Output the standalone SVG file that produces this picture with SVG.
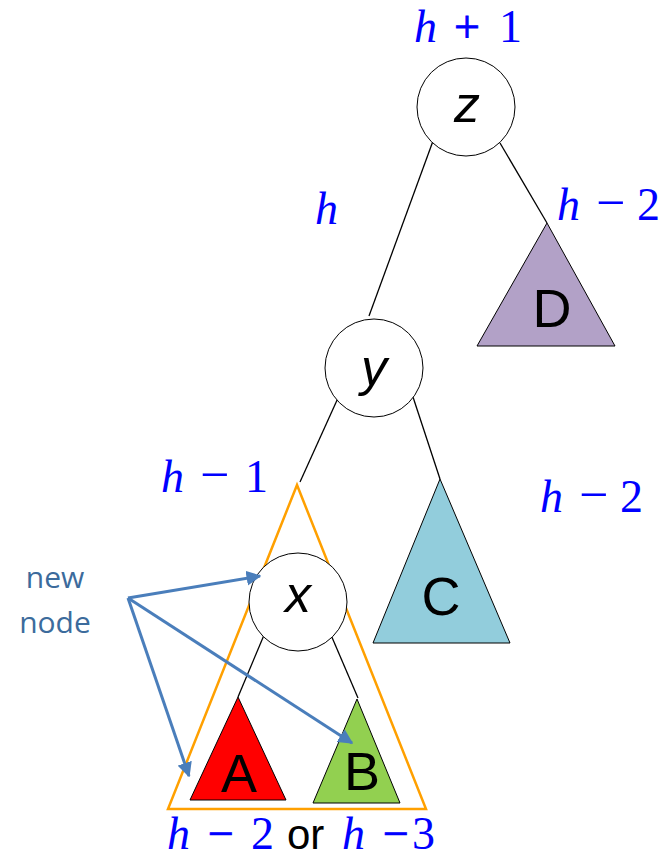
<svg xmlns="http://www.w3.org/2000/svg" width="668" height="861" viewBox="0 0 668 861">
<defs>
<style>
.node{fill:#fff;stroke:#000;stroke-width:1}
.edge{stroke:#000;stroke-width:1.3;fill:none}
.nl{font-family:"Liberation Sans",Arial,sans-serif;font-style:italic;font-size:52px;fill:#000;text-anchor:middle}
.tl{font-family:"Liberation Sans",Arial,sans-serif;font-size:54px;fill:#000;text-anchor:middle}
.m{font-family:"Liberation Serif","DejaVu Serif",serif;font-size:46px;fill:#0000FF}
.mi{font-style:italic}
.op{font-size:52px}
.ops{stroke:#0000FF;stroke-width:0.8}
.arr{stroke:#4A7EBB;stroke-width:3;fill:none;marker-end:url(#ah)}
.note{font-family:"Open Sans","Liberation Sans",sans-serif;font-size:30px;fill:#3C6B9C;text-anchor:middle}
</style>
<marker id="ah" viewBox="0 0 10 10" refX="9" refY="5" markerWidth="5" markerHeight="5" orient="auto" markerUnits="strokeWidth">
<path d="M0,0 L10,5 L0,10 z" fill="#4A7EBB"/>
</marker>
</defs>
<rect width="668" height="861" fill="#fff"/>

<g id="connectors">
<line class="edge" x1="433" y1="141" x2="369" y2="316"/>
<line class="edge" x1="500" y1="143" x2="547" y2="223"/>
<line class="edge" x1="338" y1="398" x2="300" y2="482"/>
<line class="edge" x1="413" y1="397" x2="440" y2="479"/>
<line class="edge" x1="267" y1="628" x2="238" y2="697"/>
<line class="edge" x1="331" y1="635" x2="358" y2="698"/>
</g>

<g id="orange-subtree">
<polygon points="297,485 168,809 426,809" fill="none" stroke="#FFA000" stroke-width="2.5"/>
</g>

<g id="node-z">
<circle class="node" cx="466" cy="107" r="49"/>
<text class="nl" x="467" y="122">z</text>
</g>
<g id="node-y">
<circle class="node" cx="374" cy="368" r="49"/>
<text class="nl" x="374" y="385">y</text>
</g>
<g id="node-x">
<circle class="node" cx="298" cy="602" r="49"/>
<text class="nl" x="298" y="612">x</text>
</g>

<g id="tree-D">
<polygon points="547,223 477,346 615,346" fill="#B2A1C7" stroke="#000" stroke-width="1"/>
<text class="tl" x="552" y="327">D</text>
</g>
<g id="tree-C">
<polygon points="440,479 373,643 510,643" fill="#92CDDC" stroke="#000" stroke-width="1"/>
<text class="tl" x="441" y="615">C</text>
</g>
<g id="tree-A">
<polygon points="238,697 190,800 286,800" fill="#FF0000" stroke="#000" stroke-width="1"/>
<text class="tl" x="239" y="792">A</text>
</g>
<g id="tree-B">
<polygon points="357,699 313,803 400,803" fill="#92D050" stroke="#000" stroke-width="1"/>
<text class="tl" x="362" y="790">B</text>
</g>

<g id="new-node-note">
<text class="note" x="55" y="588">new</text>
<text class="note" x="55" y="633">node</text>
<line class="arr" x1="128" y1="598" x2="260" y2="576"/>
<line class="arr" x1="128" y1="598" x2="352" y2="743"/>
<line class="arr" x1="128" y1="598" x2="189" y2="776"/>
</g>

<g id="labels">
<text class="m" y="42"><tspan class="mi" x="414">h</tspan><tspan class="ops" x="454">+</tspan><tspan x="499">1</tspan></text>
<text class="m" y="224"><tspan class="mi" x="315">h</tspan></text>
<text class="m" y="220"><tspan class="mi" x="557">h</tspan><tspan class="op" x="596">−</tspan><tspan x="637">2</tspan></text>
<text class="m" y="492"><tspan class="mi" x="161">h</tspan><tspan class="op" x="200">−</tspan><tspan x="245">1</tspan></text>
<text class="m" y="512"><tspan class="mi" x="540">h</tspan><tspan class="op" x="579">−</tspan><tspan x="620">2</tspan></text>
<text class="m" y="849"><tspan class="mi" x="167">h</tspan><tspan class="ops" x="208">−</tspan><tspan x="251">2</tspan><tspan x="287" fill="#000" font-family="Liberation Sans, Arial, sans-serif" font-size="42">or</tspan><tspan class="mi" x="342">h</tspan><tspan class="ops" x="383">−</tspan><tspan x="412">3</tspan></text>
</g>
</svg>
